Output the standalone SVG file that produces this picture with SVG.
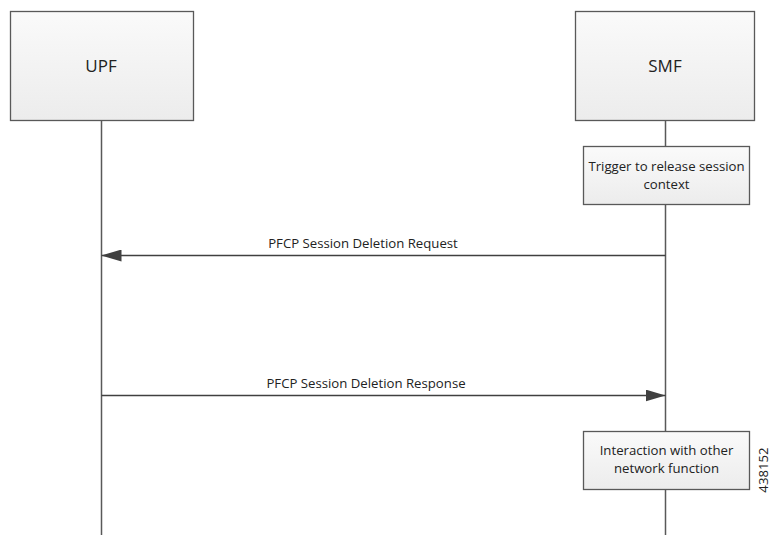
<svg xmlns="http://www.w3.org/2000/svg" width="773" height="535" viewBox="0 0 773 535">
<defs>
<linearGradient id="g" x1="0" y1="0" x2="0" y2="1">
<stop offset="0" stop-color="#fafafa"/>
<stop offset="1" stop-color="#ececec"/>
</linearGradient>
<marker id="ah" markerWidth="20" markerHeight="12" refX="20" refY="6" orient="auto" markerUnits="userSpaceOnUse">
<path d="M0,0 L20,6 L0,12 Z" fill="#404040"/>
</marker>
<style>
.box{fill:url(#g);stroke:#595959;stroke-width:1.3}
.life{stroke:#595959;stroke-width:1.5;fill:none}
.msg{stroke:#404040;stroke-width:1.5;fill:none}
text{font-family:"Open Sans","Noto Sans","Liberation Sans",sans-serif;fill:#222}
.big{font-size:17px}
.sm{font-size:13.2px}
</style>
</defs>
<rect width="773" height="535" fill="#fff"/>
<g id="connectors">
<line class="life" x1="101.5" y1="120" x2="101.5" y2="535"/>
<line class="life" x1="665.5" y1="120" x2="665.5" y2="535"/>
<line class="msg" x1="665.5" y1="255.5" x2="101.5" y2="255.5" marker-end="url(#ah)"/>
<text class="sm" x="363" y="248" text-anchor="middle">PFCP Session Deletion Request</text>
<line class="msg" x1="101.5" y1="395.5" x2="665.5" y2="395.5" marker-end="url(#ah)"/>
<text class="sm" x="366" y="388" text-anchor="middle">PFCP Session Deletion Response</text>
</g>
<g id="upf">
<rect class="box" x="10.5" y="11.5" width="183" height="109"/>
<text class="big" x="101" y="72" text-anchor="middle">UPF</text>
</g>
<g id="smf">
<rect class="box" x="575.5" y="11.5" width="179" height="109"/>
<text class="big" x="665" y="72" text-anchor="middle">SMF</text>
</g>
<g id="trigger">
<rect class="box" x="583.5" y="146.5" width="166" height="58"/>
<text class="sm" x="666.5" y="171" text-anchor="middle">Trigger to release session</text>
<text class="sm" x="666.5" y="189" text-anchor="middle">context</text>
</g>
<g id="interaction">
<rect class="box" x="583.5" y="431.5" width="166" height="58"/>
<text class="sm" x="666.5" y="455" text-anchor="middle">Interaction with other</text>
<text class="sm" x="666.5" y="473" text-anchor="middle">network function</text>
</g>
<text class="sm" transform="translate(768,470) rotate(-90)" text-anchor="middle">438152</text>
</svg>
